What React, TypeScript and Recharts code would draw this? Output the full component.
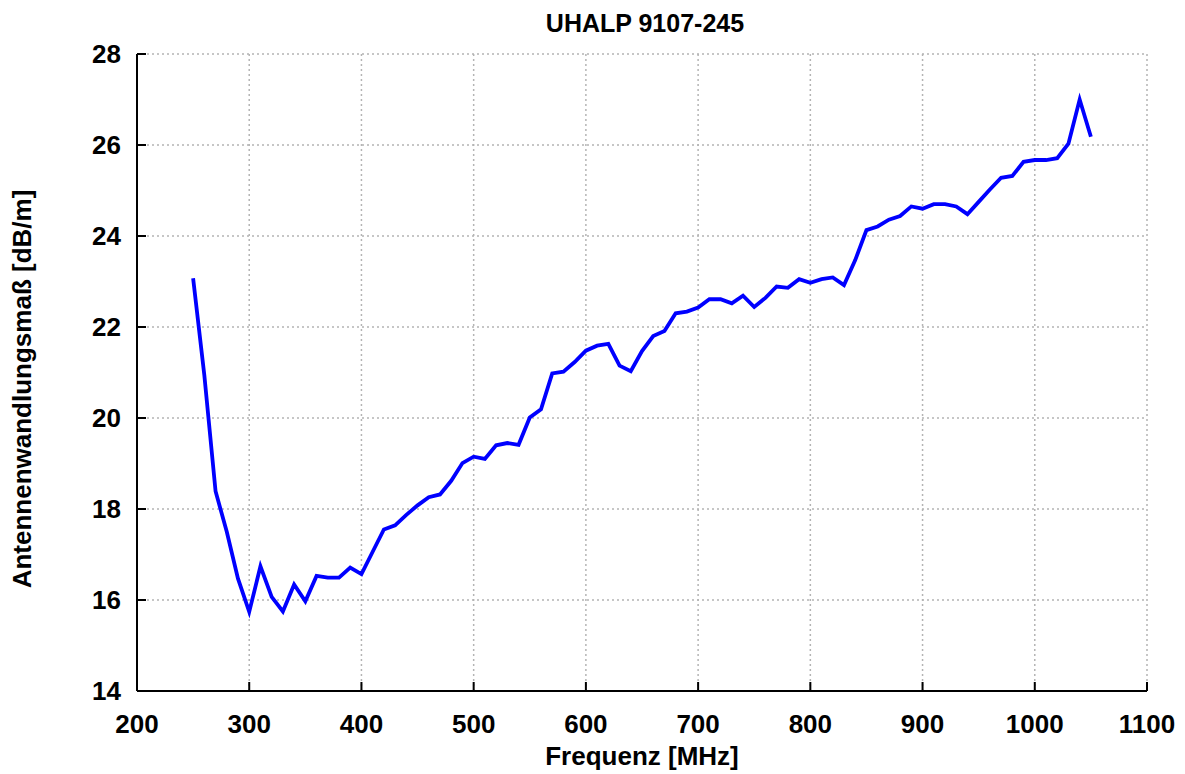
import React from 'react';
import { LineChart, Line, XAxis, YAxis, CartesianGrid } from 'recharts';

const frequencies = [
  250, 260, 270, 280, 290, 300, 310, 320, 330, 340, 350, 360, 370, 380, 390, 400,
  410, 420, 430, 440, 450, 460, 470, 480, 490, 500, 510, 520, 530, 540, 550, 560,
  570, 580, 590, 600, 610, 620, 630, 640, 650, 660, 670, 680, 690, 700, 710, 720,
  730, 740, 750, 760, 770, 780, 790, 800, 810, 820, 830, 840, 850, 860, 870, 880,
  890, 900, 910, 920, 930, 940, 950, 960, 970, 980, 990, 1000, 1010, 1020, 1030,
  1040, 1050,
];

const antennaFactor = [
  23.07, 20.94, 18.39, 17.5, 16.47, 15.74, 16.74, 16.07, 15.75, 16.34, 15.97, 16.53,
  16.49, 16.49, 16.71, 16.57, 17.06, 17.55, 17.64, 17.87, 18.08, 18.26, 18.32, 18.62,
  19.01, 19.15, 19.1, 19.4, 19.45, 19.41, 20.01, 20.19, 20.98, 21.02, 21.23, 21.48,
  21.59, 21.63, 21.15, 21.03, 21.47, 21.8, 21.91, 22.3, 22.34, 22.43, 22.61, 22.61,
  22.52, 22.69, 22.44, 22.64, 22.89, 22.86, 23.05, 22.97, 23.05, 23.09, 22.92, 23.47,
  24.13, 24.21, 24.36, 24.44, 24.65, 24.6, 24.7, 24.7, 24.65, 24.48, 24.75, 25.02,
  25.28, 25.32, 25.63, 25.67, 25.67, 25.71, 26.03, 27.0, 26.18,
];

const xTicks = [200, 300, 400, 500, 600, 700, 800, 900, 1000, 1100];
const yTicks = [14, 16, 18, 20, 22, 24, 26, 28];

const title = 'UHALP 9107-245';
const xLabel = 'Frequenz [MHz]';
const yLabel = 'Antennenwandlungsmaß [dB/m]';

const data = frequencies.map((f, i) => ({ f, v: antennaFactor[i] }));

const FONT = '"Liberation Sans", Arial, Helvetica, sans-serif';
const TICK_LEN = 9;

const BottomTick = (props: any) => {
  const { x, y, payload } = props;
  return (
    <g>
      <line x1={x} x2={x} y1={y} y2={y - TICK_LEN} stroke="#000" strokeWidth={2} />
      <text x={x} y={y + 42} textAnchor="middle" fontFamily={FONT} fontWeight="bold" fontSize={26} fill="#000">
        {payload.value}
      </text>
    </g>
  );
};

const TopTick = (props: any) => {
  const { x, y } = props;
  return <line x1={x} x2={x} y1={y} y2={y + TICK_LEN} stroke="#000" strokeWidth={2} />;
};

const LeftTick = (props: any) => {
  const { x, y, payload } = props;
  return (
    <g>
      <line x1={x} x2={x + TICK_LEN} y1={y} y2={y} stroke="#000" strokeWidth={2} />
      <text x={x - 16} y={y + 9} textAnchor="end" fontFamily={FONT} fontWeight="bold" fontSize={26} fill="#000">
        {payload.value}
      </text>
    </g>
  );
};

const RightTick = (props: any) => {
  const { x, y } = props;
  return <line x1={x} x2={x - TICK_LEN} y1={y} y2={y} stroke="#000" strokeWidth={2} />;
};

export default function App() {
  return (
    <div style={{ position: 'absolute', left: 0, top: 0, width: 1185, height: 774, background: '#fff' }}>
      <LineChart width={1185} height={774} data={data} margin={{ top: 54, right: 38, left: 0, bottom: 0 }}>
        <CartesianGrid stroke="#b4b4b4" strokeDasharray="2 3" strokeWidth={1.5} />
        <XAxis
          dataKey="f"
          type="number"
          domain={[200, 1100]}
          ticks={xTicks}
          height={83}
          tickSize={0}
          tickMargin={0}
          tickLine={false}
          axisLine={{ stroke: '#000', strokeWidth: 2 }}
          tick={<BottomTick />}
          interval={0}
        />
        <XAxis
          xAxisId="top"
          orientation="top"
          dataKey="f"
          type="number"
          domain={[200, 1100]}
          ticks={xTicks}
          height={0}
          tickSize={0}
          tickMargin={0}
          tickLine={false}
          axisLine={{ stroke: '#000', strokeWidth: 2 }}
          tick={<TopTick />}
          interval={0}
        />
        <YAxis
          type="number"
          domain={[14, 28]}
          ticks={yTicks}
          width={137}
          tickSize={0}
          tickMargin={0}
          tickLine={false}
          axisLine={{ stroke: '#000', strokeWidth: 2 }}
          tick={<LeftTick />}
          interval={0}
        />
        <YAxis
          yAxisId="right"
          orientation="right"
          type="number"
          domain={[14, 28]}
          ticks={yTicks}
          width={0}
          tickSize={0}
          tickMargin={0}
          tickLine={false}
          axisLine={{ stroke: '#000', strokeWidth: 2 }}
          tick={<RightTick />}
          interval={0}
        />
        <Line
          type="linear"
          dataKey="v"
          stroke="#0000ff"
          strokeWidth={3.8}
          dot={false}
          activeDot={false}
          isAnimationActive={false}
        />
      </LineChart>
      <svg width={1185} height={774} style={{ position: 'absolute', left: 0, top: 0, pointerEvents: 'none' }}>
        <text x={645} y={32} textAnchor="middle" fontFamily={FONT} fontWeight="bold" fontSize={25} fill="#000">
          {title}
        </text>
        <text x={642} y={765} textAnchor="middle" fontFamily={FONT} fontWeight="bold" fontSize={26} fill="#000">
          {xLabel}
        </text>
        <text
          transform="translate(31,389) rotate(-90)"
          textAnchor="middle"
          fontFamily={FONT}
          fontWeight="bold"
          fontSize={26}
          fill="#000"
        >
          {yLabel}
        </text>
      </svg>
    </div>
  );
}
